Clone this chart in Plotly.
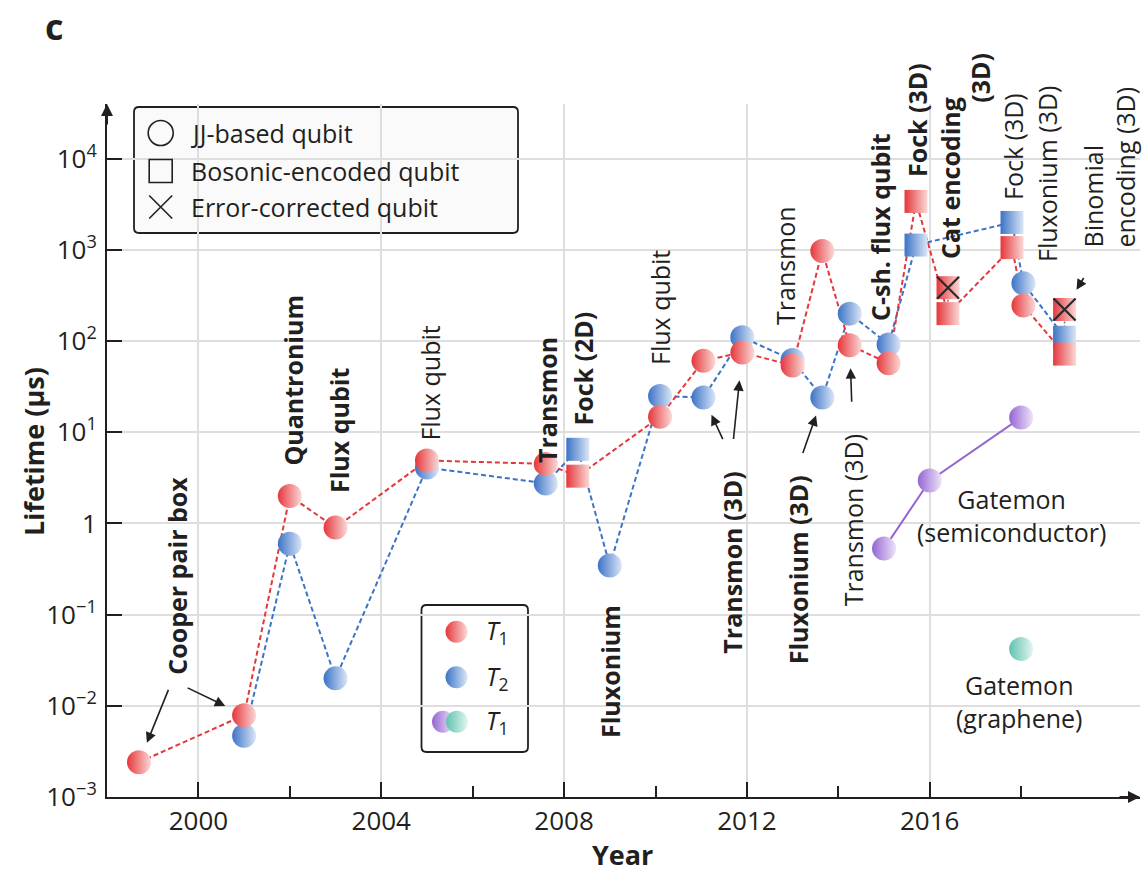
import numpy as np
import plotly.graph_objects as go

# ---------------- data ----------------
# JJ-based qubits (spheres): energy-relaxation time T1 and coherence time T2, in microseconds
jj_t1_year = [1998.7, 2001.0, 2002.0, 2003.0, 2005.0, 2007.6, 2010.1, 2011.05, 2011.9,
              2013.0, 2013.65, 2014.25, 2015.1, 2018.05]
jj_t1 = [0.0024, 0.0079, 2.0, 0.9, 4.9, 4.5, 14.8, 61, 75, 54, 970, 90, 57, 245]

jj_t2_year = [2001.0, 2002.0, 2003.0, 2005.0, 2007.6, 2009.0, 2010.1, 2011.05, 2011.9,
              2013.0, 2013.65, 2014.25, 2015.1, 2018.05]
jj_t2 = [0.0047, 0.6, 0.02, 4.1, 2.75, 0.345, 25, 24, 110, 62, 24, 200, 92, 430]

# Bosonic-encoded qubits (squares); ec = error-corrected lifetime
bos_year = [2008.3, 2015.7, 2016.4, 2017.8, 2018.95]
bos_t1 = [3.3, 3400, 200, 1060, 72]
bos_t2 = [6.5, 1130, None, 2000, 110]
bos_ec = [None, None, 385, None, 222]

# Gatemons
gate_semi_year = [2015.0, 2016.0, 2018.0]
gate_semi_t1 = [0.53, 2.95, 14.5]
gate_gra_year = [2018.0]
gate_gra_t1 = [0.042]

year_ticks = [2000, 2004, 2008, 2012, 2016]
year_minor = [2002, 2006, 2010, 2014, 2018]
life_ticks = [1e-3, 1e-2, 1e-1, 1, 1e1, 1e2, 1e3, 1e4]
life_tick_labels = ["10<sup>−3</sup>", "10<sup>−2</sup>", "10<sup>−1</sup>", "1",
                    "10<sup>1</sup>", "10<sup>2</sup>", "10<sup>3</sup>", "10<sup>4</sup>"]

# ---------------- styling ----------------
FONT = "Open Sans"
INK = "#231f20"
RED, RED_LIGHT = "#e5363b", "#fbd9d6"
BLUE, BLUE_LIGHT = "#3b73c6", "#dbe6f7"
PURPLE, PURPLE_LIGHT = "#9466d2", "#eee3fa"
TEAL, TEAL_LIGHT = "#5fc2ae", "#e3f6f1"
LABEL = 25

W, H = 1145, 875
ML, MR, MT, MB = 107, 5, 104, 78
X0, X1 = ML, W - MR          # plot area in pixels
Y0, Y1 = H - MB, MT


def px(x):
    return (x - X0) / (X1 - X0)


def py(y):
    return (Y0 - y) / (Y0 - Y1)


def merged(y_a, v_a, y_b, v_b):
    pts = [(a, b) for a, b in zip(y_a, v_a) if b is not None]
    pts += [(a, b) for a, b in zip(y_b, v_b) if b is not None]
    pts.sort(key=lambda p: p[0])
    return [p[0] for p in pts], [p[1] for p in pts]


def present(xs, vs):
    keep = [(a, b) for a, b in zip(xs, vs) if b is not None]
    return [k[0] for k in keep], [k[1] for k in keep]


fig = go.Figure()

# connecting dashed lines
red_x, red_y = merged(jj_t1_year, jj_t1, bos_year, bos_t1)
blue_x, blue_y = merged(jj_t2_year, jj_t2, bos_year, bos_t2)
fig.add_trace(go.Scatter(x=blue_x, y=blue_y, mode="lines",
                         line=dict(color=BLUE, width=2, dash="5px,3px"), hoverinfo="skip"))
fig.add_trace(go.Scatter(x=red_x, y=red_y, mode="lines",
                         line=dict(color=RED, width=2, dash="5px,3px"), hoverinfo="skip"))
fig.add_trace(go.Scatter(x=gate_semi_year, y=gate_semi_t1, mode="lines",
                         line=dict(color=PURPLE, width=2), hoverinfo="skip"))

# vertical connectors between error-corrected and bare lifetimes
for yr, ec, t1 in zip(bos_year, bos_ec, bos_t1):
    if ec is not None:
        fig.add_trace(go.Scatter(x=[yr, yr], y=[ec, t1], mode="lines",
                                 line=dict(color="#777", width=1.5, dash="2px,2px"),
                                 hoverinfo="skip"))


def balls(xs, ys, c, c2, size=24, xa="x", ya="y"):
    return go.Scatter(x=xs, y=ys, mode="markers", xaxis=xa, yaxis=ya,
                      marker=dict(symbol="circle", size=size, color=c,
                                  gradient=dict(type="horizontal", color=c2),
                                  line=dict(width=0)), hoverinfo="skip")


def squares(xs, ys, c, c2, size=23):
    return go.Scatter(x=xs, y=ys, mode="markers",
                      marker=dict(symbol="square", size=size, color=c,
                                  gradient=dict(type="horizontal", color=c2),
                                  line=dict(width=0)), hoverinfo="skip")


fig.add_trace(balls(jj_t2_year, jj_t2, BLUE, BLUE_LIGHT))
fig.add_trace(balls(jj_t1_year, jj_t1, RED, RED_LIGHT))
bx, by = present(bos_year, bos_t2)
fig.add_trace(squares(bx, by, BLUE, BLUE_LIGHT))
bx, by = present(bos_year, bos_t1)
fig.add_trace(squares(bx, by, RED, RED_LIGHT))
ex, ey = present(bos_year, bos_ec)
fig.add_trace(squares(ex, ey, RED, RED_LIGHT))
fig.add_trace(go.Scatter(x=ex, y=ey, mode="markers", hoverinfo="skip",
                         marker=dict(symbol="x-thin", size=22,
                                     line=dict(width=2.2, color="#2a2a2a"))))
fig.add_trace(balls(gate_semi_year, gate_semi_t1, PURPLE, PURPLE_LIGHT))
fig.add_trace(balls(gate_gra_year, gate_gra_t1, TEAL, TEAL_LIGHT))

# ---------------- legend keys (pixel overlay) ----------------
fig.add_trace(go.Scatter(x=[160.7], y=[133], xaxis="x2", yaxis="y2", mode="markers",
                         marker=dict(symbol="circle-open", size=25, color=INK,
                                     line=dict(width=1.6, color=INK)), hoverinfo="skip"))
fig.add_trace(go.Scatter(x=[160.7], y=[171], xaxis="x2", yaxis="y2", mode="markers",
                         marker=dict(symbol="square-open", size=23, color=INK,
                                     line=dict(width=1.6, color=INK)), hoverinfo="skip"))
fig.add_trace(go.Scatter(x=[160.7], y=[207], xaxis="x2", yaxis="y2", mode="markers",
                         marker=dict(symbol="x-thin", size=23,
                                     line=dict(width=1.6, color=INK)), hoverinfo="skip"))
fig.add_trace(balls([456.5], [631.7], RED, RED_LIGHT, 22, "x2", "y2"))
fig.add_trace(balls([456.5], [677.3], BLUE, BLUE_LIGHT, 22, "x2", "y2"))
fig.add_trace(balls([443], [721.7], PURPLE, PURPLE_LIGHT, 22, "x2", "y2"))
fig.add_trace(balls([457], [721.7], TEAL, TEAL_LIGHT, 22, "x2", "y2"))


def rrect(x0, y0, x1, y1, r=5):
    return (f"M{x0 + r},{y0} L{x1 - r},{y0} Q{x1},{y0} {x1},{y0 + r} "
            f"L{x1},{y1 - r} Q{x1},{y1} {x1 - r},{y1} L{x0 + r},{y1} "
            f"Q{x0},{y1} {x0},{y1 - r} L{x0},{y0 + r} Q{x0},{y0} {x0 + r},{y0} Z")


shapes = [
    dict(type="path", xref="x2", yref="y2", path=rrect(134, 107, 518, 233),
         line=dict(color=INK, width=1.8), fillcolor="rgba(250,250,250,1)", layer="below"),
    dict(type="path", xref="x2", yref="y2", path=rrect(421.5, 605, 528, 752),
         line=dict(color=INK, width=1.8), fillcolor="rgba(255,255,255,1)", layer="below"),
]

annotations = []


def text(x, y, s, size=LABEL, bold=False, angle=0, xanchor="center", align="center",
         yanchor="middle"):
    if bold:
        s = f"<b>{s}</b>"
    annotations.append(dict(x=px(x), y=py(y), xref="paper", yref="paper", text=s,
                            showarrow=False, textangle=angle, xanchor=xanchor,
                            yanchor=yanchor, align=align,
                            font=dict(family=FONT, size=size, color=INK)))


def arrow(year, val, ax, ay, standoff):
    annotations.append(dict(x=year, y=float(np.log10(val)), xref="x", yref="y", text="",
                            showarrow=True, ax=ax, ay=ay, axref="pixel", ayref="pixel",
                            arrowhead=2, arrowsize=1.3, arrowwidth=1.6, arrowcolor=INK,
                            standoff=standoff))


# legend texts
text(189, 133, "JJ-based qubit", 25, xanchor="left")
text(189, 171, "Bosonic-encoded qubit", 25, xanchor="left")
text(189, 207, "Error-corrected qubit", 25, xanchor="left")
text(484, 631, "<i>T</i><sub>1</sub>", 25, xanchor="left")
text(484, 677, "<i>T</i><sub>2</sub>", 25, xanchor="left")
text(484, 721, "<i>T</i><sub>1</sub>", 25, xanchor="left")

# qubit labels
text(176.7, 576, "Cooper pair box", bold=True, angle=-90)
text(292.6, 380, "Quantronium", bold=True, angle=-90)
text(339, 431, "Flux qubit", bold=True, angle=-90)
text(429.6, 383, "Flux qubit", angle=-90)
text(547, 400, "Transmon", bold=True, angle=-90)
text(582.5, 369, "Fock (2D)", bold=True, angle=-90)
text(610, 672, "Fluxonium", bold=True, angle=-90)
text(660, 308, "Flux qubit", angle=-90)
text(731.7, 563, "Transmon (3D)", bold=True, angle=-90)
text(785, 266, "Transmon", angle=-90)
text(798.3, 570, "Fluxonium (3D)", bold=True, angle=-90)
text(853.3, 520, "Transmon (3D)", angle=-90)
text(880, 227, "C-sh. flux qubit", bold=True, angle=-90)
text(917, 120, "Fock (3D)", bold=True, angle=-90)
text(950, 178, "Cat encoding", bold=True, angle=-90)
text(979.8, 78, "(3D)", bold=True, angle=-90)
text(1013, 147, "Fock (3D)", angle=-90)
text(1047, 174, "Fluxonium (3D)", angle=-90)
text(1108.5, 167, "Binomial<br>encoding (3D)", angle=-90, align="left")
text(1011.6, 515, "Gatemon<br>(semiconductor)")
text(1019, 701, "Gatemon<br>(graphene)")

# axis titles and panel letter
text(622, 855, "Year", 27, True)
text(33, 452, "Lifetime (µs)", 27, True, -90)
text(54, 0, "c", 36, True, yanchor="top")

# pointer arrows
arrow(jj_t1_year[0], jj_t1[0], 30, -74, 21)
arrow(jj_t1_year[1], jj_t1[1], -58, -28, 21)
arrow(jj_t2_year[7], jj_t2[7], 20, 43, 19)
arrow(jj_t1_year[8], jj_t1[8], -9, 88, 28)
arrow(jj_t2_year[10], jj_t2[10], -20, 57, 19)
arrow(jj_t1_year[11], jj_t1[11], 2, 58, 23)
arrow(bos_year[4], bos_ec[4], 20, -33, 23)

# axis arrowheads
annotations.append(dict(x=1, y=0, xref="paper", yref="paper", text="", showarrow=True,
                        ax=-22, ay=0, arrowhead=2, arrowsize=1.2, arrowwidth=2, arrowcolor=INK))
annotations.append(dict(x=0, y=1, xref="paper", yref="paper", text="", showarrow=True,
                        ax=0, ay=22, arrowhead=2, arrowsize=1.2, arrowwidth=2, arrowcolor=INK))

fig.update_layout(
    width=W, height=H, autosize=False,
    margin=dict(l=ML, r=MR, t=MT, b=MB, pad=0),
    paper_bgcolor="white", plot_bgcolor="white",
    showlegend=False,
    font=dict(family=FONT, color=INK),
    shapes=shapes, annotations=annotations,
    xaxis=dict(range=[1998.0, 2020.6], tickmode="array", tickvals=year_ticks,
               ticks="inside", ticklen=15, tickwidth=2, tickcolor=INK,
               minor=dict(tickmode="array", tickvals=year_minor, ticks="inside",
                          ticklen=11, tickwidth=2, tickcolor=INK, showgrid=False),
               showgrid=True, gridcolor="#dedede", gridwidth=1.5,
               showline=True, linecolor=INK, linewidth=2, zeroline=False,
               tickfont=dict(family=FONT, size=26, color=INK), ticklabelstandoff=0,
               fixedrange=True),
    yaxis=dict(type="log", range=[-3, 4.6], tickmode="array", tickvals=life_ticks,
               ticktext=life_tick_labels,
               ticks="inside", ticklen=15, tickwidth=2, tickcolor=INK,
               showgrid=True, gridcolor="#dedede", gridwidth=1.5,
               showline=True, linecolor=INK, linewidth=2, zeroline=False,
               tickfont=dict(family=FONT, size=26, color=INK), ticklabelstandoff=3,
               fixedrange=True),
    xaxis2=dict(overlaying="x", range=[X0, X1], visible=False, fixedrange=True),
    yaxis2=dict(overlaying="y", range=[Y0, Y1], visible=False, fixedrange=True),
)

fig.write_html("out.html")
